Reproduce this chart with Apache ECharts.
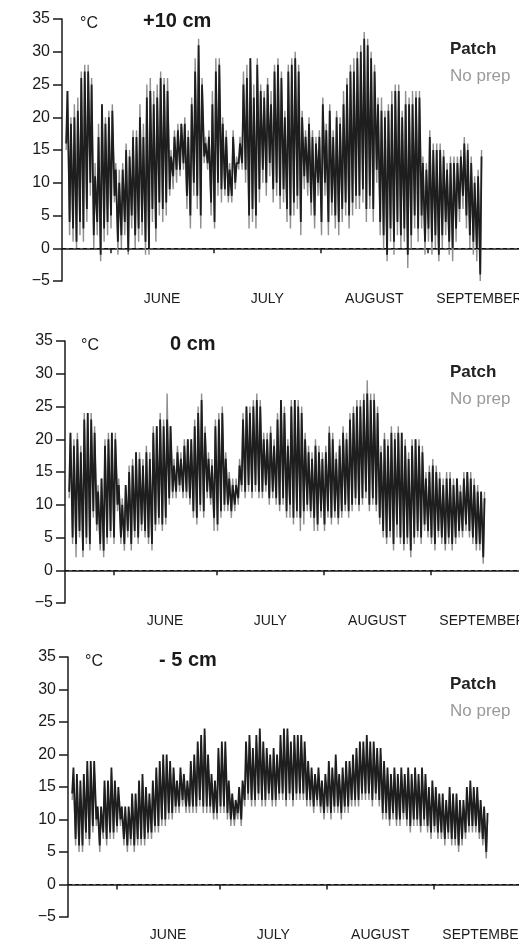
<!DOCTYPE html>
<html><head><meta charset="utf-8">
<script src="https://cdn.jsdelivr.net/npm/echarts@6/dist/echarts.min.js"></script>
<style>
html,body{margin:0;padding:0;background:#fff;overflow:hidden;width:519px;height:945px}
#c{width:580px;height:945px}
</style>
</head><body><div id="c"></div>
<script>
// ---- data ----
const firstDay = 139;            // day of year of first record (19 May)
const hourOfMin = 5, hourOfMax = 14;
const monthNames = ['JUNE', 'JULY', 'AUGUST', 'SEPTEMBER'];
const monthStarts = [152, 182, 213, 244, 274];   // day of year: 1 Jun, 1 Jul, 1 Aug, 1 Sep, 1 Oct
const yTickLabels = [-5, 0, 5, 10, 15, 20, 25, 30, 35];
const panelTitles = ['+10 cm', '0 cm', '- 5 cm'];
const seriesNames = ['Patch', 'No prep'];

// +10 cm
const p10PatchHi = [24,19,20,21,26,27,27,25,11,17, 22,19,20,21,12,10,12,15,14,17, 17,20,17,23,24,22,23,26,25,24, 14,17,18,19,19,17,22,27,31,25, 16,17,22,27,28,19,17,12,17,13, 16,25,26,29,23,28,24,23,25,22, 27,28,26,20,27,28,29,27,20,17, 19,17,16,17,22,18,21,17,20,19, 22,25,27,27,29,30,32,31,29,27, 22,21,20,21,22,24,24,20,22,22, 22,23,23,13,12,17,15,15,15,14, 12,13,13,13,14,16,15,13,10,11,14];
const p10PatchLo = [16,4,3,1,4,3,6,10,2,4, -1,3,4,5,8,1,2,4,-0.5,5, 2,3,4,1,0,6,3,7,6,7, 9,11,12,12,13,8,5,10,8,5, 14,13,7,4,10,9,9,8,8,10, 13,13,12,5,6,5,9,12,10,13, 9,10,8,9,6,5,7,8,4,11, 10,7,5,10,4,10,4,7,5,4, 6,7,5,7,8,8,9,6,8,6, 12,4,2,-1,3,1,4,2,3,-1, 2,5,3,5,1,3,1,2,-1,2, 4,1,0,3,6,8,5,2,1,0,-4];
const p10NoPrepHi = [24,20,22,23,27,28,28,26,13,19, 22,20,21,22,13,12,13,16,15,18, 18,22,19,25,26,24,25,27,26,26, 15,18,19,19,20,18,23,29,32,26, 17,18,24,29,29,20,18,13,18,14, 17,27,28,29,25,29,25,24,26,24, 28,29,27,21,28,29,30,28,21,18, 20,18,17,18,23,19,22,18,21,20, 24,26,28,29,30,31,33,32,30,28, 23,23,21,22,24,25,25,21,24,23, 24,24,24,14,13,18,16,16,16,15, 13,14,14,14,15,17,16,14,11,12,15];
const p10NoPrepLo = [15,2,1,0,2,1,4,8,0,2, -2,1,2,3,7,-1,0,2,-1,3, 0,1,2,-1,-1,4,1,5,4,5, 8,9,10,11,12,6,3,8,6,3, 13,12,5,3,8,7,8,7,7,9, 12,12,10,3,4,3,7,10,8,11, 7,8,6,7,4,3,5,6,2,9, 8,5,3,8,2,8,2,5,3,2, 4,5,3,5,6,6,7,4,6,4, 10,2,0,-2,1,-1,2,0,1,-3, 0,3,1,3,-1,1,-1,0,-2,0, 2,-1,-2,1,4,6,3,0,-1,-2,-5];

// 0 cm
const p0PatchHi = [21,19,20,18,23,24,23,21,12,14, 19,20,21,20,13,10,13,15,16,18, 17,16,18,17,21,22,23,22,23,22, 16,18,17,19,20,20,22,24,26,21, 17,16,22,23,24,17,14,13,13,16, 23,25,24,25,26,25,20,20,21,19, 23,26,24,19,25,26,25,24,20,18, 17,19,18,17,18,21,20,17,19,21, 20,23,24,25,25,26,27,26,26,24, 18,20,19,21,20,21,21,19,17,19, 20,19,18,14,15,16,15,14,13,14, 14,13,14,12,14,15,14,13,12,12,11];
const p0PatchLo = [12,5,4,6,3,5,4,9,7,4, 3,5,6,5,10,5,4,6,4,6, 5,7,6,5,4,7,8,7,8,11, 12,12,13,12,12,11,9,8,10,9, 12,11,8,7,9,10,10,9,10,11, 13,12,13,12,13,12,12,13,11,12, 11,10,11,9,10,8,9,8,9,10, 9,8,7,9,7,9,8,9,8,9, 10,9,10,11,10,11,12,10,11,10, 8,6,5,6,4,7,5,4,5,3, 5,6,5,7,6,5,4,6,5,4, 5,4,5,6,6,7,6,5,4,4,2];
const p0NoPrepHi = [21,20,21,19,24,24,24,22,13,14, 20,21,21,21,14,11,13,16,17,18, 18,17,19,18,22,22,24,23,27,22, 17,19,18,20,20,20,23,25,27,22, 18,17,23,24,25,18,15,14,14,17, 24,25,25,26,27,26,21,21,22,20, 24,26,25,20,26,26,26,25,21,19, 18,20,19,18,19,22,21,18,20,22, 21,24,25,26,26,27,29,27,27,25, 19,21,20,22,21,22,21,20,18,20, 20,20,19,15,16,17,16,15,14,15, 15,14,14,13,15,15,15,14,13,12,12];
const p0NoPrepLo = [11,4,2,5,2,4,3,8,6,3, 2,4,5,4,9,4,3,5,3,5, 4,6,5,4,3,6,7,6,7,10, 11,11,12,11,11,10,8,7,9,8, 11,10,6,6,8,9,9,8,9,10, 12,11,12,11,12,11,11,12,10,11, 10,9,10,8,8,7,8,6,7,9, 8,6,6,8,6,8,7,8,7,8, 9,8,9,10,9,10,11,9,10,9, 7,5,4,5,3,5,4,3,4,2, 4,5,4,6,5,4,3,5,4,3, 4,3,4,5,5,6,5,4,3,3,1];

// -5 cm
const m5PatchHi = [18,17,16,17,19,19,19,12,12,16, 16,18,16,15,12,12,12,14,14,16, 17,15,14,16,18,19,20,20,19,18, 16,18,17,16,19,20,22,23,24,20, 17,16,21,22,22,16,14,13,15,16, 22,23,21,23,24,22,21,20,21,20, 23,24,24,22,23,23,23,22,19,18, 17,18,16,17,19,18,20,17,18,19, 19,20,21,22,22,23,22,22,21,21, 19,18,17,18,17,18,17,18,17,18, 17,18,17,15,16,15,14,14,13,15, 14,14,13,13,15,16,15,15,13,12,11];
const m5PatchLo = [14,7,6,6,8,7,9,10,6,8, 7,8,8,9,10,7,6,7,6,7, 7,7,8,8,9,9,10,10,11,11, 12,12,13,12,12,12,12,13,12,12, 12,11,11,12,12,11,10,10,11,10, 13,14,13,13,14,13,13,14,13,13, 14,14,13,14,13,14,14,14,13,13, 12,13,12,11,12,11,12,12,11,12, 12,13,13,13,14,14,14,13,14,13, 11,11,10,11,10,10,11,10,9,10, 10,9,10,9,8,9,8,8,7,8, 7,7,6,7,8,9,9,9,8,7,5];
const m5NoPrepHi = [17,16,15,16,18,18,18,12,11,15, 15,17,15,14,12,11,11,13,13,15, 16,14,13,15,17,18,19,19,18,17, 15,17,16,15,18,19,21,22,23,19, 16,15,20,21,21,15,13,12,14,15, 21,22,20,22,23,21,20,19,20,19, 22,23,23,21,22,22,22,21,18,17, 16,17,15,16,18,17,19,16,17,18, 18,19,20,21,21,22,21,21,20,20, 18,17,16,17,16,17,16,17,16,17, 16,17,16,14,15,14,13,13,12,14, 13,13,12,12,14,15,14,14,12,11,10];
const m5NoPrepLo = [13,6,5,5,7,6,8,9,5,7, 6,7,7,8,9,6,5,6,5,6, 6,6,7,7,8,8,9,9,10,10, 11,11,12,11,11,11,11,12,11,11, 11,10,10,11,11,10,9,9,10,9, 12,13,12,12,13,12,12,13,12,12, 13,13,12,13,12,13,13,13,12,12, 11,12,11,10,11,10,11,11,10,11, 11,12,12,12,13,13,13,12,13,12, 10,10,9,10,9,9,10,9,8,9, 9,8,9,8,7,8,7,7,6,7, 6,6,5,6,7,8,8,8,7,6,4];

// ---- chart ----
function build(hi, lo) {
  const out = [];
  for (let d = 0; d < hi.length; d++) {
    out.push([firstDay + d + hourOfMin / 24, lo[d]]);
    out.push([firstDay + d + hourOfMax / 24, hi[d]]);
  }
  return out;
}
const panels = [
  {patch: build(p10PatchHi, p10PatchLo), noprep: build(p10NoPrepHi, p10NoPrepLo)},
  {patch: build(p0PatchHi, p0PatchLo), noprep: build(p0NoPrepHi, p0NoPrepLo)},
  {patch: build(m5PatchHi, m5PatchLo), noprep: build(m5NoPrepHi, m5NoPrepLo)}
];
const monthMids = monthNames.map((m, i) => (monthStarts[i] + monthStarts[i + 1]) / 2);

const layout = [
  {left: 62, top: 19, height: 262, cTop: 11, tTop: 6, tLeft: 138, cLeft: 75, lTop: 36},
  {left: 65, top: 341, height: 262, cTop: 333, tTop: 329, tLeft: 165, cLeft: 76, lTop: 359},
  {left: 68, top: 657, height: 260, cTop: 649, tTop: 645, tLeft: 154, cLeft: 80, lTop: 671}
];
const FONT = '"Liberation Sans", Arial, sans-serif';
const grid = [], xAxis = [], yAxis = [], series = [], title = [], legend = [];
layout.forEach((L, i) => {
  grid.push({left: L.left, top: L.top, height: L.height, width: 490});
  xAxis.push({
    type: 'value', gridIndex: i, min: 138, max: 280,
    axisLine: {lineStyle: {color: '#1a1a1a', width: 1.5}},
    axisTick: {customValues: monthStarts, length: 5, lineStyle: {color: '#1a1a1a', width: 1.5}},
    axisLabel: {customValues: monthMids, margin: 11, color: '#1a1a1a', fontSize: 14, fontFamily: FONT,
      formatter: v => { let k = 0, best = 1e9; monthMids.forEach((m, j) => { if (Math.abs(m - v) < best) { best = Math.abs(m - v); k = j; } }); return monthNames[k]; }},
    splitLine: {show: false}
  });
  yAxis.push({
    type: 'value', gridIndex: i, min: yTickLabels[0], max: yTickLabels[yTickLabels.length - 1], interval: 5,
    axisLine: {show: true, lineStyle: {color: '#1a1a1a', width: 1.5}},
    axisTick: {show: true, length: 9, lineStyle: {color: '#1a1a1a', width: 1.5}},
    axisLabel: {margin: 12, color: '#1a1a1a', fontSize: 16, fontFamily: FONT,
      formatter: v => v < 0 ? '\u2212' + Math.abs(v) : String(v)},
    splitLine: {show: false}
  });
  series.push({
    name: seriesNames[1], type: 'line', xAxisIndex: i, yAxisIndex: i, data: panels[i].noprep,
    showSymbol: false, symbol: 'none', animation: false,
    lineStyle: {color: '#8e8e8e', width: 1.4}, itemStyle: {color: '#9a9a9a'}, z: 2
  });
  series.push({
    name: seriesNames[0], type: 'line', xAxisIndex: i, yAxisIndex: i, data: panels[i].patch,
    showSymbol: false, symbol: 'none', animation: false,
    lineStyle: {color: '#1e1e1e', width: 1.8}, itemStyle: {color: '#1e1e1e'}, z: 3,
    markLine: {silent: true, symbol: 'none', label: {show: false}, animation: false,
      lineStyle: {color: '#111', type: [4, 3], width: 1.2}, data: [{yAxis: 0}]}
  });
  title.push({text: '°C', left: L.cLeft, top: L.cTop, textStyle: {fontSize: 16, fontWeight: 'normal', color: '#1a1a1a', fontFamily: FONT}});
  title.push({text: panelTitles[i], left: L.tLeft, top: L.tTop, textStyle: {fontSize: 20, fontWeight: 'bold', color: '#1a1a1a', fontFamily: FONT}});
  legend.push({
    left: 440, top: L.lTop, orient: 'vertical', itemGap: 10, itemWidth: 0, itemHeight: 0, icon: 'rect',
    selectedMode: false,
    data: [
      {name: seriesNames[0], textStyle: {color: '#222', fontWeight: 'bold', fontSize: 17, fontFamily: FONT}},
      {name: seriesNames[1], textStyle: {color: '#9a9a9a', fontWeight: 'normal', fontSize: 17, fontFamily: FONT}}
    ]
  });
});
const chart = echarts.init(document.getElementById('c'), null, {renderer: 'canvas'});
chart.setOption({animation: false, backgroundColor: '#fff', grid, xAxis, yAxis, series, title, legend});
</script>
</body></html>
